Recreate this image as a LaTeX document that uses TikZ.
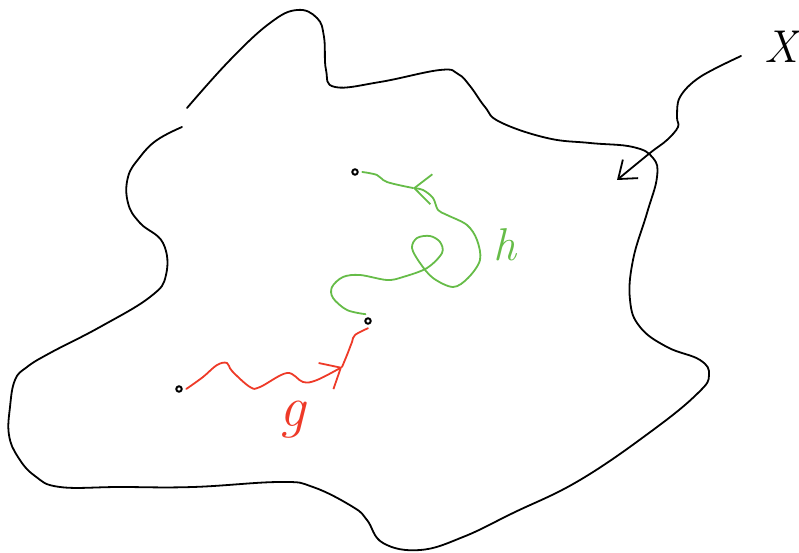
\documentclass[tikz,border=0pt]{standalone}
\usepackage{amsmath,amssymb}
\usetikzlibrary{positioning,arrows.meta}
\definecolor{gred}{RGB}{238,58,40}
\definecolor{hgreen}{RGB}{102,188,72}

\begin{document}
\begin{tikzpicture}[x=1pt,y=-1pt,line width=1.8pt,line cap=round,line join=round,
	dot/.style={draw,circle,inner sep=0pt,minimum size=5.5pt,line width=2pt,outer sep=4.5pt},
	barbtip/.style={-{Straight Barb[length=17pt,width=30pt]}},
	lbl/.style={inner sep=0pt,font=\fontsize{46}{46}\selectfont\itshape}]
			\useasboundingbox (0,0) rectangle (799,553);
			% the region
			\draw plot[smooth,tension=0.7] coordinates {(187,108) (230,60) (270,23) (297,10) (317,18)
				(324,37) (326,70) (335,87) (380,82) (440,70) (458,74) (470,86) (485,107) (500,122)
				(547,138) (590,143) (633,147) (653,158) (657,177) (647,213) (633,260) (630,300)
				(640,327) (667,347) (700,360) (709,375) (698,393) (653,430) (580,480) (513,513)
				(463,537) (420,550) (383,543) (367,520) (353,507) (313,487) (280,482) (193,487)
				(120,487) (60,487) (35,476) (18,457) (9,435) (10,407) (15,380) (27,367) (50,353)
				(100,327) (150,297) (166,275) (163,243) (140,223) (128,203) (128,177) (140,157)
				(157,140) (182,127)};
			
			\node[dot] (p0) at (179,389) {};
			\node[dot] (p1) at (368,321) {};
			\node[dot] (p2) at (355,172) {};
			\coordinate (gT) at (342,367);
			\coordinate (hT) at (413,188);
			\coordinate (xS) at (741,56);
			\coordinate (xT) at (617,180);
			
			\node[lbl] (X) at (781,47) {X};
			\node[lbl,gred,font=\fontsize{58}{58}\selectfont\itshape] (g) at (293,420) {g};
			\node[lbl,hgreen] (h) at (505,245) {h};
			
			\begin{scope}[gred]
			\draw[barbtip] plot[smooth,tension=0.6] coordinates {(p0.0) (203,377) (217,365) (227,363)
				(232,371) (250,387) (260,387) (287,373) (303,382) (317,380) (gT)};
			\draw plot[smooth,tension=0.6] coordinates {(gT) (347,355) (352,342) (355,335) (p1.-90)};
			\end{scope}
			
			\begin{scope}[hgreen]
			\draw[barbtip] plot[smooth,tension=0.55] coordinates {(p1.110) (347,310) (333,298) (332,287)
				(343,277) (360,275) (387,280) (403,277) (427,268) (442,253) (440,242) (430,236)
				(417,238) (412,248) (420,263) (433,278) (453,287) (468,278) (480,260) (477,240)
				(467,225) (447,215) (438,210) (433,198) (423,190) (hT)};
			\draw plot[smooth,tension=0.6] coordinates {(hT) (387,182) (377,175) (p2.0)};
			\end{scope}
			
			\draw[-{Straight Barb[length=16pt,width=24pt]}] plot[smooth,tension=0.6] coordinates {(xS)
				(700,77) (680,97) (677,117) (678,127) (667,140) (650,153) (xT)};
\end{tikzpicture}
\end{document}
